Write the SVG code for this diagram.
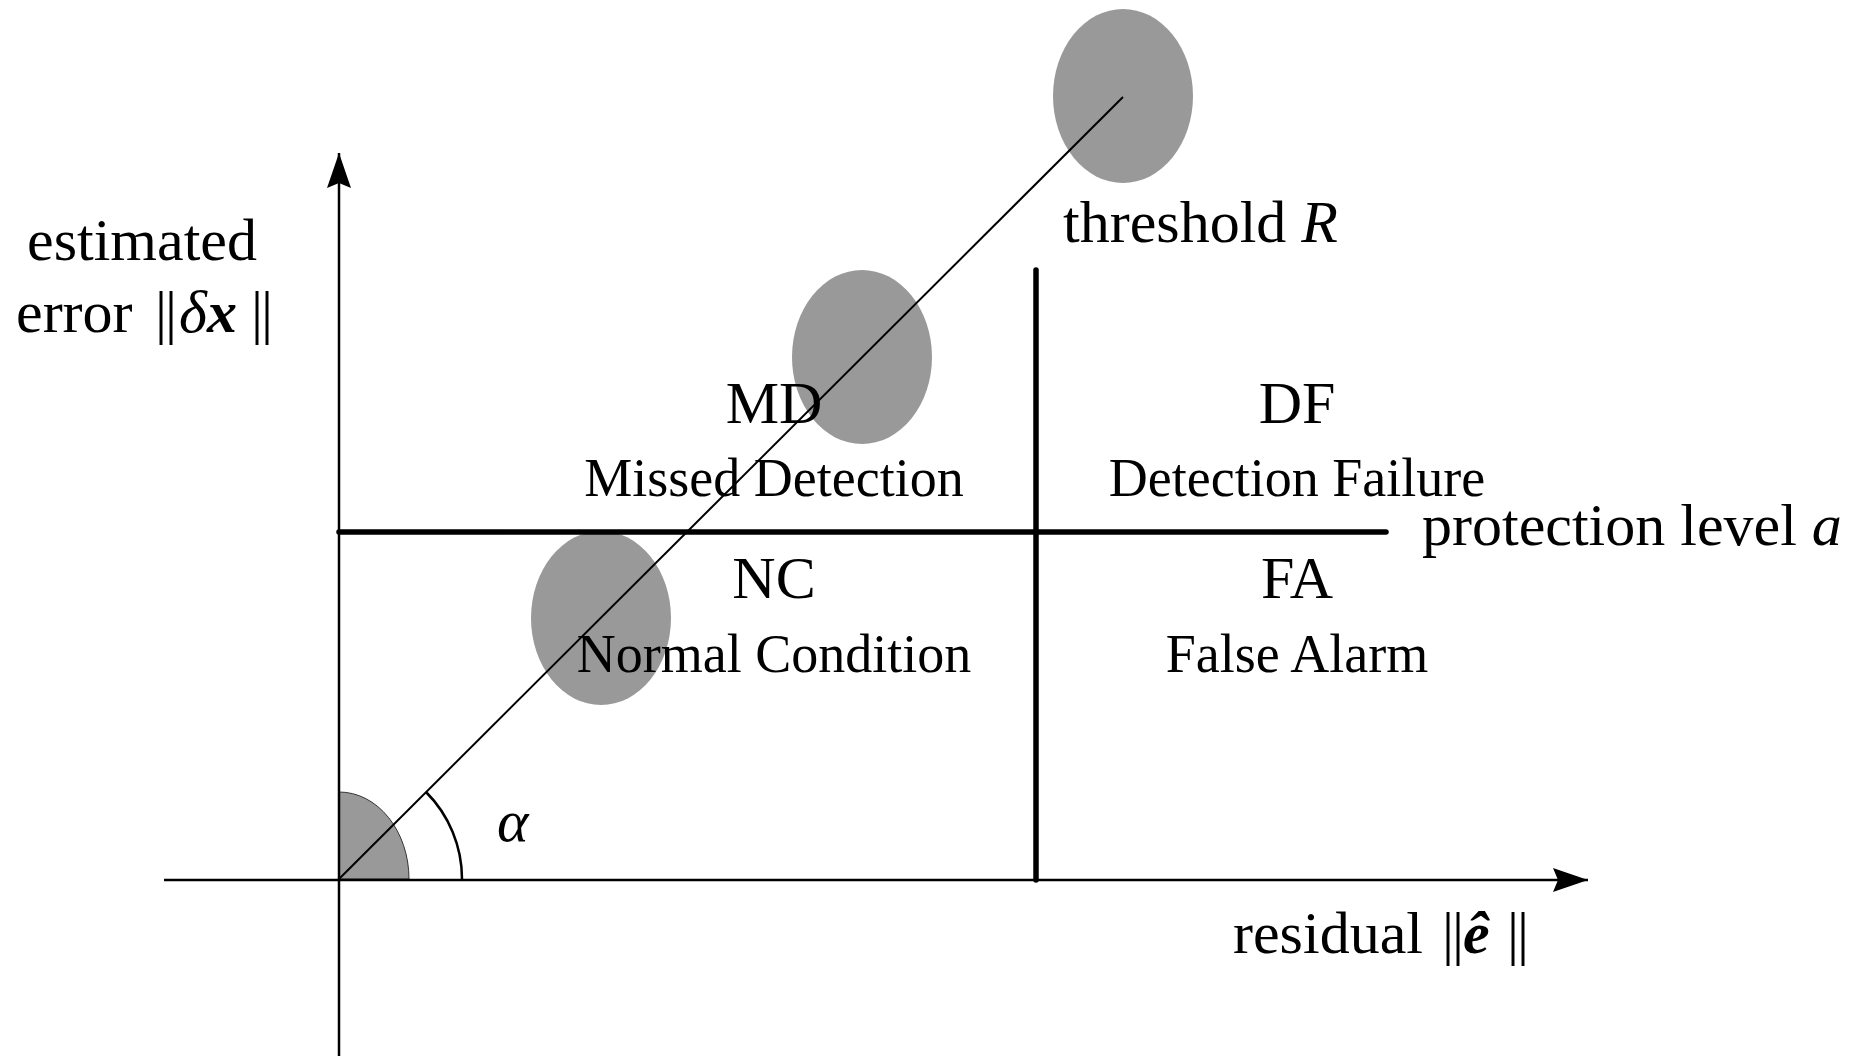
<svg xmlns="http://www.w3.org/2000/svg" width="1865" height="1056" viewBox="0 0 1865 1056">
<style>
.t{font-family:"Liberation Serif","Times New Roman",serif;fill:#000}
.big{font-size:60px}
.sub{font-size:54px}
.bar{letter-spacing:-2px}
.ax{stroke:#000;stroke-width:2.5;fill:none}
.thick{stroke:#000;stroke-width:5.5;stroke-linecap:round;fill:none}
.blob{fill:#999}
</style>
<defs>
<marker id="arr" markerUnits="userSpaceOnUse" markerWidth="40" markerHeight="30" refX="35" refY="12" orient="auto">
<path d="M0,0 L35,12 L0,24 L5,12 Z" fill="#000"/>
</marker>
</defs>
<rect width="1865" height="1056" fill="#fff"/>
<g id="nodes">
<g id="ellipse-top"><ellipse class="blob" cx="1123" cy="96" rx="70" ry="87"/></g>
<g id="ellipse-mid"><ellipse class="blob" cx="862" cy="357" rx="70" ry="87"/></g>
<g id="ellipse-low"><ellipse class="blob" cx="601" cy="618" rx="70" ry="87"/></g>
<g id="angle-sector"><path d="M339,879 L409,879 A70,87 0 0 0 339,792 Z" fill="#999" stroke="#333" stroke-width="1"/></g>
</g>
<g id="connectors">
<line class="ax" x1="339" y1="1056" x2="339" y2="153" marker-end="url(#arr)"/>
<line class="ax" x1="164" y1="880" x2="1588" y2="880" marker-end="url(#arr)"/>
<line class="thick" x1="1036" y1="270" x2="1036" y2="880"/>
<line class="thick" x1="339" y1="532" x2="1386" y2="532"/>
<line stroke="#000" stroke-width="2" x1="339" y1="879" x2="1123" y2="97"/>
<path d="M462,879 A123,123 0 0 0 426,792" stroke="#000" stroke-width="2.5" fill="none"/>
</g>
<g id="labels">
<text class="t big" x="142" y="260" text-anchor="middle" font-size="61">estimated</text>
<text class="t big" x="16" y="332">error <tspan class="bar" x="155">||</tspan><tspan x="179" font-style="italic">δ</tspan><tspan font-style="italic" font-weight="bold">x</tspan><tspan class="bar" x="251">||</tspan></text>
<text class="t big" x="1063" y="242">threshold <tspan font-style="italic">R</tspan></text>
<text class="t big" x="1422" y="545">protection level <tspan font-style="italic">a</tspan></text>
<text class="t big" x="1233" y="953">residual <tspan class="bar" x="1442">||</tspan><tspan x="1463" font-style="italic" font-weight="bold">ê</tspan><tspan class="bar" x="1507">||</tspan></text>
<text class="t big" x="497" y="841" font-style="italic">α</text>
<g id="MD"><text class="t big" x="774" y="423" text-anchor="middle">MD</text>
<text class="t sub" x="774" y="496" text-anchor="middle">Missed Detection</text></g>
<g id="DF"><text class="t big" x="1297" y="423" text-anchor="middle">DF</text>
<text class="t sub" x="1297" y="496" text-anchor="middle">Detection Failure</text></g>
<g id="NC"><text class="t big" x="774" y="598" text-anchor="middle">NC</text>
<text class="t sub" x="774" y="672" text-anchor="middle">Normal Condition</text></g>
<g id="FA"><text class="t big" x="1297" y="598" text-anchor="middle">FA</text>
<text class="t sub" x="1297" y="672" text-anchor="middle">False Alarm</text></g>
</g>
</svg>
